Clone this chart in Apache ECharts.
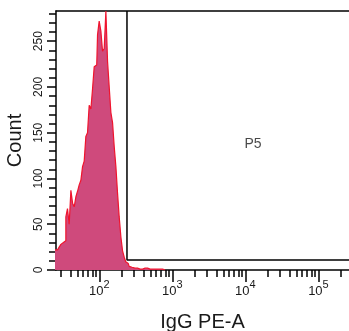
<!DOCTYPE html>
<html><head><meta charset="utf-8">
<script src="https://cdn.jsdelivr.net/npm/echarts@6/dist/echarts.min.js"></script>
<style>html,body{margin:0;padding:0;background:#fff}#c{width:349px;height:331px}</style>
</head><body><div id="c"></div>
<script>
// Histogram bin centres (IgG PE-A intensity) and counts
const binCenters = [24.7, 26.1, 27.4, 29.0, 30.5, 32.2, 33.9, 35.7, 37.6, 39.7, 41.9, 44.1, 46.5, 49.0, 51.6, 54.4, 57.4, 60.4, 63.7, 67.1, 70.7, 74.6, 78.7, 82.8, 87.3, 92.1, 96.9, 102.2, 107.8, 113.5, 119.7, 126.2, 132.9, 140.2, 147.8, 155.6, 164.1, 173.0, 182.1, 192.1, 202.6, 213.4, 225.0, 235, 249, 264, 280, 308, 361, 423, 495, 580, 679, 795];
const counts     = [22, 22, 23, 25, 28, 30, 32, 58, 67, 50, 87, 73, 69, 80, 86, 93, 98, 113, 119, 146, 150, 180, 176, 198, 222, 224, 257, 272, 261, 239, 242, 283, 228, 200, 172, 161, 135, 113, 84, 58, 36, 21, 14, 9, 7, 4, 3, 2, 1, 2, 1, 1, 1, 0];
// Axis ticks
const xMajorTicks = [100, 1000, 10000, 100000];
const xMinorTicks = [30, 40, 50, 60, 70, 80, 90, 200, 300, 400, 500, 600, 700, 800, 900, 2000, 3000, 4000, 5000, 6000, 7000, 8000, 9000, 20000, 30000, 40000, 50000, 60000, 70000, 80000, 90000, 200000];
const yMajorTicks = [0, 50, 100, 150, 200, 250];
const yMinorTicks = [0, 10, 20, 30, 40, 50, 60, 70, 80, 90, 100, 110, 120, 130, 140, 150, 160, 170, 180, 190, 200, 210, 220, 230, 240, 250, 260, 270, 280];
// Gate P5
const gateX = [239, 239, 262144];
const gateY = [283, 11, 11];
const gateLabelName = 'P5';
const gateLabelPos = [12740, 137];
const xMin = 25.5, xMax = 262144, yMax = 283;

const L = Math.log10;
const font = 'Liberation Sans, Arial, sans-serif';
const ink = '#1a1a1a';
const chart = echarts.init(document.getElementById('c'), null, {renderer: 'canvas'});
const xBase = {type: 'value', min: L(xMin), max: L(xMax), splitLine: {show: false}};
const yBase = {type: 'value', min: 0, max: yMax, splitLine: {show: false}};
const lineSt = {color: '#000', width: 1.5};
chart.setOption({
  animation: false,
  grid: {left: 56, top: 11, right: 0, bottom: 61, outerBoundsMode: 'none', containLabel: false},
  xAxis: [
    Object.assign({}, xBase, {position: 'bottom', axisLine: {lineStyle: lineSt},
      axisTick: {customValues: xMinorTicks.map(L), length: 7, lineStyle: lineSt},
      axisLabel: {show: false}}),
    Object.assign({}, xBase, {position: 'bottom', axisLine: {show: false},
      axisTick: {customValues: xMajorTicks.map(L), length: 12, lineStyle: lineSt},
      axisLabel: {customValues: xMajorTicks.map(L), margin: 9,
        formatter: v => '{b|10}{s|' + Math.round(v) + '}',
        rich: {b: {fontSize: 13, fontFamily: font, color: ink},
               s: {fontSize: 11, fontFamily: font, color: ink, padding: [0, 0, 14, 0]}}},
      name: 'IgG PE-A', nameLocation: 'middle', nameGap: 42,
      nameTextStyle: {fontSize: 20, fontFamily: font, color: ink}}),
    Object.assign({}, xBase, {position: 'top', axisLine: {lineStyle: lineSt},
      axisTick: {show: false}, axisLabel: {show: false}})
  ],
  yAxis: [
    Object.assign({}, yBase, {position: 'left', axisLine: {show: true, lineStyle: lineSt},
      axisTick: {show: true, customValues: yMinorTicks, length: 7, lineStyle: lineSt},
      axisLabel: {show: false}}),
    Object.assign({}, yBase, {position: 'left', axisLine: {show: false},
      axisTick: {show: true, customValues: yMajorTicks, length: 9, lineStyle: lineSt},
      axisLabel: {customValues: yMajorTicks, rotate: 90, margin: 11, fontSize: 12, fontFamily: font, color: ink},
      name: 'Count', nameLocation: 'middle', nameGap: 30,
      nameTextStyle: {fontSize: 20, fontFamily: font, color: ink}})
  ],
  series: [
    {type: 'line', xAxisIndex: 0, yAxisIndex: 0, step: 'middle', symbol: 'none', clip: true,
     data: binCenters.map((v, i) => [L(v), counts[i]]),
     lineStyle: {color: '#f0142e', width: 1.2},
     areaStyle: {color: '#cf4a7c', opacity: 1}, z: 2},
    {type: 'line', xAxisIndex: 0, yAxisIndex: 0, symbol: 'none', clip: false,
     data: gateX.map((v, i) => [L(v), gateY[i]]),
     lineStyle: {color: '#000', width: 1.5}, z: 3},
    {type: 'scatter', xAxisIndex: 0, yAxisIndex: 0, symbolSize: 0,
     data: [[L(gateLabelPos[0]), gateLabelPos[1]]],
     label: {show: true, position: 'inside', formatter: gateLabelName, fontSize: 14, fontFamily: font, color: ink}}
  ]
});
</script></body></html>
